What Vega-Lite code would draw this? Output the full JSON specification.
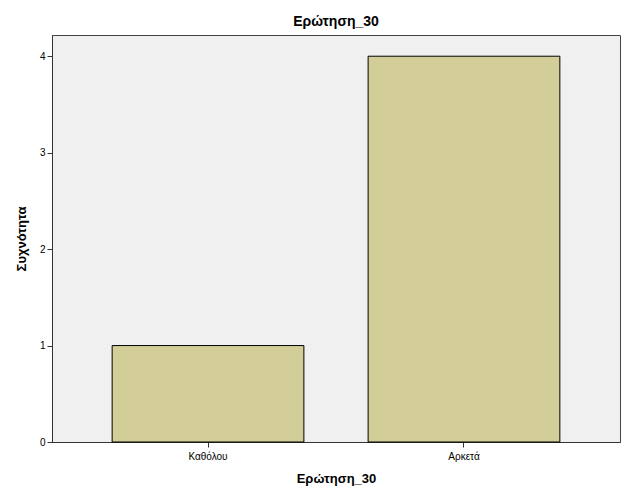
{
  "$schema": "https://vega.github.io/schema/vega-lite/v6.json",
  "autosize": {"type": "none"},
  "width": 568,
  "height": 407,
  "padding": {"left": 52, "top": 35, "right": 6, "bottom": 59},
  "background": "white",
  "title": {"text": "Ερώτηση_30", "font": "Liberation Sans", "fontSize": 14, "fontWeight": "bold", "color": "black", "offset": 6, "anchor": "middle"},
  "config": {
    "view": {"fill": "#f0f0f0", "stroke": "#444444", "strokeWidth": 1},
    "axis": {"labelFont": "Liberation Sans", "titleFont": "Liberation Sans", "labelColor": "black", "titleColor": "black", "domainColor": "#333333", "tickColor": "#333333", "grid": false, "labelFontSize": 10, "titleFontSize": 13, "titleFontWeight": "bold", "tickSize": 5}
  },
  "data": {"values": [
    {"category": "Καθόλου", "count": 1},
    {"category": "Αρκετά", "count": 4}
  ]},
  "mark": {"type": "bar", "color": "#d3ce97", "stroke": "black", "strokeWidth": 1},
  "encoding": {
    "x": {"field": "category", "type": "nominal", "sort": ["Καθόλου", "Αρκετά"],
      "scale": {"paddingInner": 0.251, "paddingOuter": 0.235},
      "axis": {"title": "Ερώτηση_30", "labelAngle": 0, "labelPadding": 4, "titlePadding": 11}},
    "y": {"field": "count", "type": "quantitative",
      "scale": {"domain": [0, 4.22], "nice": false},
      "axis": {"title": "Συχνότητα", "values": [0, 1, 2, 3, 4], "format": "d", "labelPadding": 2, "titlePadding": 11}}
  }
}
